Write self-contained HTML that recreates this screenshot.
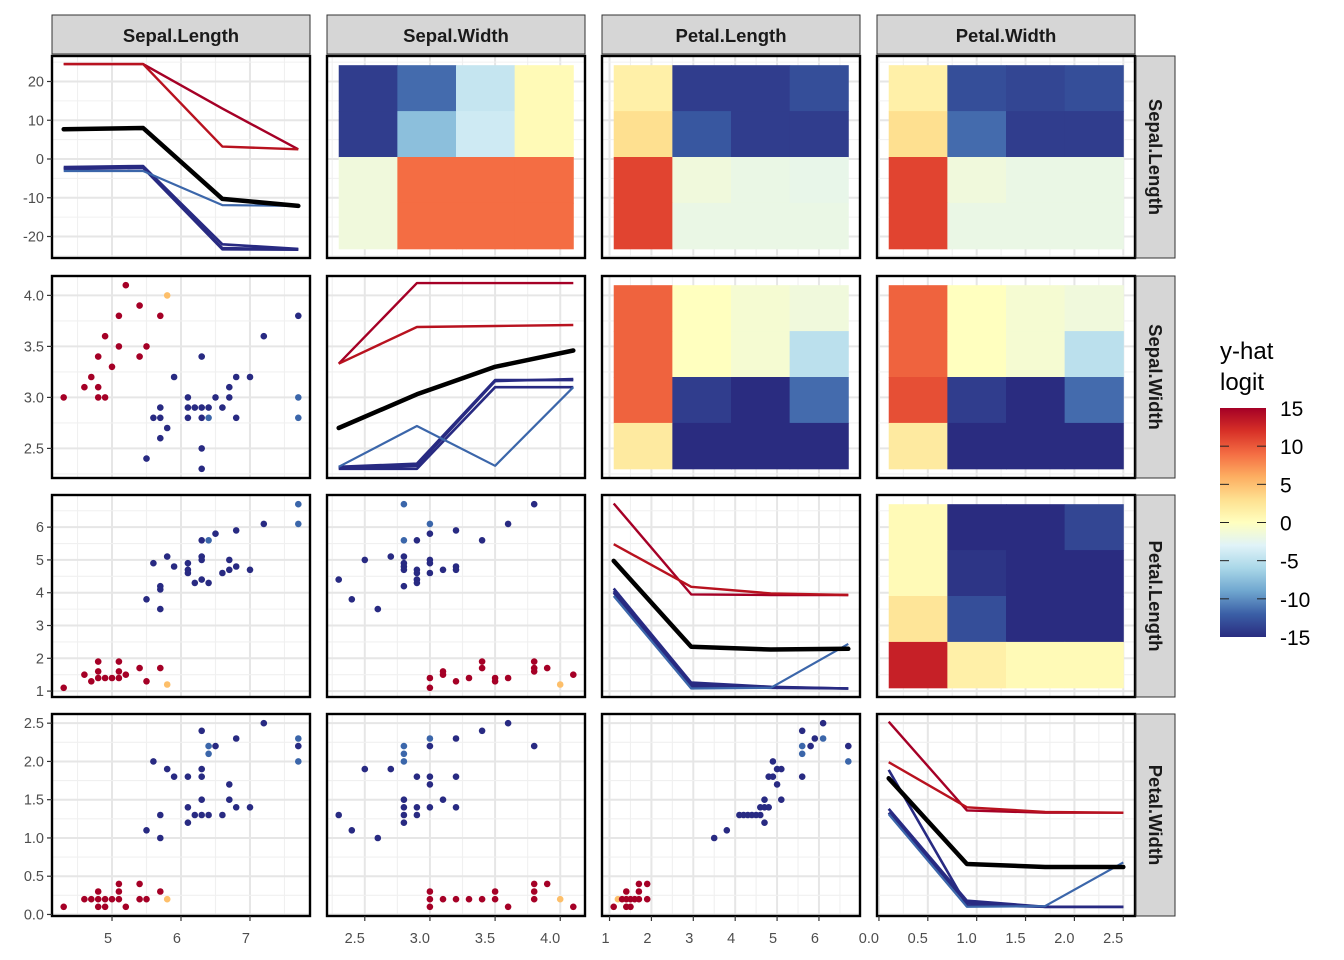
<!DOCTYPE html>
<html><head><meta charset="utf-8"><style>
html,body{margin:0;padding:0;background:#fff;}
svg{display:block;font-family:"Liberation Sans",Arial,sans-serif;}
</style></head>
<body>
<svg id="chart" width="1344" height="960" viewBox="0 0 1344 960">
<defs>
<linearGradient id="lg" x1="0" y1="1" x2="0" y2="0">
<stop offset="0" stop-color="#2a2c80"/><stop offset="0.1" stop-color="#3b5fa6"/><stop offset="0.2" stop-color="#6fa6cf"/><stop offset="0.3" stop-color="#a9d7e8"/><stop offset="0.4" stop-color="#e0f3f8"/><stop offset="0.5" stop-color="#ffffbf"/><stop offset="0.6" stop-color="#fee090"/><stop offset="0.7" stop-color="#fdae61"/><stop offset="0.8" stop-color="#f46d43"/><stop offset="0.9" stop-color="#d73027"/><stop offset="1" stop-color="#a50026"/>
</linearGradient>
</defs>
<g id="grids"></g>
<g id="marks"></g>
<g id="frames"></g>
<g id="axes"></g>
<g id="legend">
<text x="1220" y="359" font-size="24" fill="#000">y-hat</text>
<text x="1220" y="390" font-size="24" fill="#000">logit</text>
<rect x="1220" y="408" width="46" height="229" fill="url(#lg)"/>
</g>
</svg>
<script>
// ---- data ----
const features = ["Sepal.Length","Sepal.Width","Petal.Length","Petal.Width"];
const featMin = [4.3, 2.3, 1.1, 0.1];
const featMax = [7.7, 4.1, 6.7, 2.5];
const colTicks = [[5,6,7],[2.5,3.0,3.5,4.0],[1,2,3,4,5,6],[0.0,0.5,1.0,1.5,2.0,2.5]];
const colTickLabels = [["5","6","7"],["2.5","3.0","3.5","4.0"],["1","2","3","4","5","6"],["0.0","0.5","1.0","1.5","2.0","2.5"]];
const rowTicks = [[-20,-10,0,10,20],[2.5,3.0,3.5,4.0],[1,2,3,4,5,6],[0.0,0.5,1.0,1.5,2.0,2.5]];
const rowTickLabels = [["-20","-10","0","10","20"],["2.5","3.0","3.5","4.0"],["1","2","3","4","5","6"],["0.0","0.5","1.0","1.5","2.0","2.5"]];
const legendTicks = [15,10,5,0,-5,-10,-15];

// diagonal ICE lines (row 0 in logit units; others in row-feature units)
const diagX = [[4.3,5.45,6.6,7.7],[2.3,2.9,3.5,4.1],[1.1,2.95,4.85,6.7],[0.1,0.9,1.7,2.5]];
const diagNavy = [
 [[-2.1,-1.8,-22,-23.2],[-2.4,-2.1,-23,-23.3],[-2.6,-2.3,-23.3,-23.4]],
 [[2.32,2.35,3.17,3.17],[2.31,2.33,3.16,3.18],[2.30,2.30,3.10,3.10]],
 [[4.13,1.26,1.13,1.08],[4.05,1.20,1.12,1.08],[4.0,1.15,1.10,1.08]],
 [[1.38,0.18,0.10,0.10],[1.89,0.12,0.10,0.10],[1.33,0.15,0.10,0.10]]];
const diagMid = [[-3.1,-3.1,-11.9,-12.1],[2.32,2.72,2.33,3.10],[3.90,1.08,1.10,2.44],[1.31,0.10,0.11,0.68]];
const diagRed = [
 [[24.5,24.5,13,2.5],[24.5,24.5,3.2,2.5]],
 [[3.33,4.12,4.12,4.12],[3.33,3.69,3.70,3.71]],
 [[6.72,3.95,3.93,3.93],[5.48,4.18,3.98,3.93]],
 [[2.52,1.36,1.33,1.33],[1.99,1.40,1.34,1.33]]];
const diagBlack = [[7.7,8.0,-10.3,-12.1],[2.70,3.03,3.30,3.46],[4.97,2.35,2.27,2.29],[1.78,0.66,0.62,0.62]];

// heatmaps (upper triangle), rows top->bottom, cols left->right, logit values
const heat01 = [[-14,-11.5,-4.5,0.5],[-14,-7.5,-4,0.5],[-1.5,9,9,9],[-1.5,9,9,9]];
const heat02 = [[1.5,-14,-14,-13],[3,-12.5,-14,-14],[11,-1.5,-2,-2.2],[11,-2,-2,-2]];
const heat03 = [[1.5,-13,-13.5,-13],[3,-11.5,-14,-14],[11,-1.5,-2,-2],[11,-2,-2,-2]];
const heat12 = [[9.5,0,-1,-1.5],[9.5,0,-1,-5],[9.5,-14,-15,-11.5],[2,-15,-15,-15]];
const heat13 = [[9.5,0,-1,-1.5],[9.5,0,-1,-5],[10.5,-14,-15,-11.5],[2,-15,-15,-15]];
const heat23 = [[0.5,-15,-15,-13.5],[0.5,-14.5,-15,-15.5],[2.5,-13,-15,-15],[13,1.5,0.5,0.5]];

// scatter (lower triangle): [x, y, class] class 0=red 1=orange 2=midblue 3=navy
const sc10 = [[4.3,3.0,0],[4.6,3.1,0],[4.7,3.2,0],[4.8,3.1,0],[4.8,3.0,0],[4.8,3.4,0],[4.9,3.0,0],[4.9,3.6,0],[5.0,3.3,0],[5.1,3.5,0],[5.1,3.8,0],[5.2,4.1,0],[5.4,3.9,0],[5.4,3.4,0],[5.5,3.5,0],[5.7,3.8,0],[5.8,4.0,1],
 [5.5,2.4,3],[5.6,2.8,3],[5.7,2.9,3],[5.7,2.8,3],[5.7,2.6,3],[5.8,2.7,3],[5.9,3.2,3],[6.1,3.0,3],[6.1,2.9,3],[6.1,2.8,3],[6.2,2.9,3],[6.3,2.9,3],[6.3,2.8,3],[6.3,3.4,3],[6.3,2.5,3],[6.3,2.3,3],[6.4,2.9,3],[6.4,2.8,2],[6.5,3.0,3],[6.6,2.9,3],[6.7,3.0,3],[6.7,3.1,3],[6.8,3.2,3],[6.8,2.8,3],[7.0,3.2,3],[7.2,3.6,3],[7.7,3.8,3],[7.7,3.0,2],[7.7,2.8,2]];
const sc20 = [[4.3,1.1,0],[4.6,1.5,0],[4.7,1.3,0],[4.8,1.9,0],[4.8,1.6,0],[4.8,1.4,0],[4.9,1.4,0],[5.0,1.4,0],[5.1,1.9,0],[5.1,1.6,0],[5.1,1.4,0],[5.2,1.5,0],[5.4,1.7,0],[5.5,1.3,0],[5.7,1.7,0],[5.8,1.2,1],
 [5.5,3.8,3],[5.6,4.9,3],[5.7,4.2,3],[5.7,4.1,3],[5.7,3.5,3],[5.8,5.1,3],[5.9,4.8,3],[6.1,4.9,3],[6.1,4.7,3],[6.1,4.6,3],[6.2,4.3,3],[6.3,5.6,3],[6.3,5.1,3],[6.3,5.0,3],[6.3,4.4,3],[6.4,5.6,2],[6.4,4.3,3],[6.5,5.8,3],[6.6,4.6,3],[6.7,5.0,3],[6.7,4.7,3],[6.8,5.9,3],[6.8,4.8,3],[7.0,4.7,3],[7.2,6.1,3],[7.7,6.7,2],[7.7,6.1,2]];
const sc30 = [[4.3,0.1,0],[4.6,0.2,0],[4.7,0.2,0],[4.8,0.3,0],[4.8,0.2,0],[4.8,0.1,0],[4.9,0.2,0],[4.9,0.1,0],[5.0,0.2,0],[5.1,0.4,0],[5.1,0.3,0],[5.1,0.2,0],[5.2,0.1,0],[5.4,0.4,0],[5.4,0.2,0],[5.5,0.2,0],[5.7,0.3,0],[5.8,0.2,1],
 [5.5,1.1,3],[5.6,2.0,3],[5.7,1.3,3],[5.7,1.0,3],[5.8,1.9,3],[5.9,1.8,3],[6.1,1.8,3],[6.1,1.4,3],[6.1,1.2,3],[6.2,1.3,3],[6.3,2.4,3],[6.3,1.9,3],[6.3,1.8,3],[6.3,1.5,3],[6.3,1.3,3],[6.4,2.2,2],[6.4,2.1,2],[6.4,1.3,3],[6.5,2.2,3],[6.6,1.3,3],[6.7,1.7,3],[6.7,1.5,3],[6.8,2.3,3],[6.8,1.4,3],[7.0,1.4,3],[7.2,2.5,3],[7.7,2.3,2],[7.7,2.2,3],[7.7,2.0,2]];
const sc21 = [[3.0,1.4,0],[3.0,1.1,0],[3.1,1.6,0],[3.1,1.5,0],[3.2,1.3,0],[3.3,1.4,0],[3.4,1.9,0],[3.4,1.7,0],[3.5,1.4,0],[3.5,1.3,0],[3.6,1.4,0],[3.8,1.9,0],[3.8,1.7,0],[3.8,1.6,0],[3.9,1.7,0],[4.1,1.5,0],[4.0,1.2,1],
 [2.8,6.7,2],[3.8,6.7,3],[3.0,6.1,2],[3.6,6.1,3],[3.2,5.9,3],[3.0,5.8,3],[2.8,5.6,2],[2.9,5.6,3],[3.4,5.6,3],[2.5,5.0,3],[2.7,5.1,3],[2.8,5.1,3],[2.8,4.9,3],[2.8,4.8,3],[2.8,4.7,3],[2.9,4.7,3],[2.9,4.6,3],[3.0,5.0,3],[3.0,4.9,3],[3.0,4.6,3],[3.1,4.7,3],[3.2,4.8,3],[3.2,4.7,3],[2.9,4.4,3],[2.9,4.3,3],[2.8,4.2,3],[2.3,4.4,3],[2.4,3.8,3],[2.6,3.5,3]];
const sc31 = [[3.0,0.3,0],[3.0,0.2,0],[3.0,0.1,0],[3.1,0.2,0],[3.2,0.2,0],[3.3,0.2,0],[3.4,0.2,0],[3.5,0.3,0],[3.5,0.2,0],[3.6,0.1,0],[3.8,0.4,0],[3.8,0.3,0],[3.8,0.2,0],[3.9,0.4,0],[4.1,0.1,0],[4.0,0.2,1],
 [3.6,2.5,3],[3.4,2.4,3],[3.0,2.3,2],[3.2,2.3,3],[3.0,2.2,3],[3.8,2.2,3],[2.8,2.2,2],[2.8,2.1,2],[2.8,2.0,2],[2.5,1.9,3],[2.7,1.9,3],[2.9,1.8,3],[3.0,1.8,3],[3.2,1.8,3],[3.0,1.7,3],[2.8,1.5,3],[2.8,1.4,3],[2.9,1.4,3],[3.0,1.4,3],[3.1,1.5,3],[3.2,1.4,3],[2.8,1.3,3],[2.9,1.3,3],[2.8,1.2,3],[2.3,1.3,3],[2.4,1.1,3],[2.6,1.0,3]];
const sc32 = [[1.1,0.1,0],[1.2,0.2,1],[1.3,0.2,0],[1.4,0.2,0],[1.5,0.2,0],[1.6,0.2,0],[1.7,0.2,0],[1.4,0.3,0],[1.7,0.3,0],[1.7,0.4,0],[1.9,0.4,0],[1.9,0.2,0],[1.4,0.1,0],[1.5,0.1,0],
 [6.1,2.5,3],[5.6,2.4,3],[5.9,2.3,3],[6.1,2.3,2],[6.7,2.2,3],[6.7,2.0,2],[5.6,2.2,2],[5.6,2.1,2],[5.8,2.2,3],[5.6,1.8,3],[4.9,2.0,3],[4.8,1.8,3],[4.9,1.8,3],[5.0,1.9,3],[5.1,1.9,3],[5.0,1.7,3],[5.1,1.5,3],[4.7,1.5,3],[4.6,1.4,3],[4.7,1.4,3],[4.8,1.4,3],[4.1,1.3,3],[4.2,1.3,3],[4.3,1.3,3],[4.4,1.3,3],[4.5,1.3,3],[4.6,1.3,3],[4.7,1.2,3],[3.8,1.1,3],[3.5,1.0,3]];

// ---- layout / scales ----
const NS = "http://www.w3.org/2000/svg";
const colLeft = [52,327,602,877], rowTop = [56,276,495,714], PW = 258, PH = 202;
function lo(i){ return featMin[i]-0.05*(featMax[i]-featMin[i]); }
function hi(i){ return featMax[i]+0.05*(featMax[i]-featMin[i]); }
function xS(c,v){ return colLeft[c] + (v-lo(c))/(hi(c)-lo(c))*PW; }
function fY(r,v){ return rowTop[r]+PH - (v-lo(r))/(hi(r)-lo(r))*PH; }
function logitY(v){ return 159 - v*3.875; }
function axisY(r,v){ return r===0 ? logitY(v) : fY(r,v); }
const classColors = ["#a50026","#fdbf6a","#3b66aa","#282a82"];
const rdylbu = ["#2a2c80","#3b5fa6","#6fa6cf","#a9d7e8","#e0f3f8","#ffffbf","#fee090","#fdae61","#f46d43","#d73027","#a50026"];
function hx(s){ return [1,3,5].map(i=>parseInt(s.substr(i,2),16)); }
function colorFor(v){
  let t = (Math.max(-15,Math.min(15,v))+15)/30*10;
  let i = Math.min(9,Math.floor(t)), f = t-i;
  const a = hx(rdylbu[i]), b = hx(rdylbu[i+1]);
  return "rgb("+a.map((x,k)=>Math.round(x+(b[k]-x)*f)).join(",")+")";
}
function mk(tag, attrs, parent){
  const e = document.createElementNS(NS, tag);
  for (const k in attrs) e.setAttribute(k, attrs[k]);
  parent.appendChild(e);
  return e;
}
const gG = document.getElementById("grids"), gM = document.getElementById("marks"),
      gF = document.getElementById("frames"), gA = document.getElementById("axes"),
      gL = document.getElementById("legend");

// grids
for (let r=0;r<4;r++) for (let c=0;c<4;c++){
  const x0=colLeft[c], y0=rowTop[r];
  const bg = mk("rect",{x:x0,y:y0,width:PW,height:PH,fill:"#fff"},gG);
  
  
  const xt = colTicks[c], yt = rowTicks[r];
  const xs = [], ys = [];
  const dx = xt[1]-xt[0], dy = yt[1]-yt[0];
  for (let k=-2;k<xt.length+2;k++){ xs.push([xt[0]+k*dx,true]); xs.push([xt[0]+(k+0.5)*dx,false]); }
  for (let k=-2;k<yt.length+2;k++){ ys.push([yt[0]+k*dy,true]); ys.push([yt[0]+(k+0.5)*dy,false]); }
  xs.forEach(([v,maj])=>{ const px=xS(c,v); if(px>x0&&px<x0+PW){
    const l = mk("line",{x1:px,x2:px,y1:y0,y2:y0+PH,stroke:maj?"#e6e6e6":"#f0f0f0","stroke-width":maj?2:1.1},gG);
    
     }});
  ys.forEach(([v,maj])=>{ const py=axisY(r,v); if(py>y0&&py<y0+PH){
    const l = mk("line",{x1:x0,x2:x0+PW,y1:py,y2:py,stroke:maj?"#e6e6e6":"#f0f0f0","stroke-width":maj?2:1.1},gG);
    
     }});
}

// heatmaps
const heatList = [[0,1,heat01],[0,2,heat02],[0,3,heat03],[1,2,heat12],[1,3,heat13],[2,3,heat23]];
heatList.forEach(([r,c,m])=>{
  const xa = xS(c,featMin[c]), xb = xS(c,featMax[c]);
  const ya = fY(r,featMax[r]), yb = fY(r,featMin[r]);
  const w = (xb-xa)/4, h = (yb-ya)/4;
  m.forEach((row,i)=>row.forEach((v,j)=>{
    const cell = mk("rect",{x:xa+j*w,y:ya+i*h,width:w+0.5,height:h+0.5,fill:colorFor(v)},gM);
    
    
  }));
});

// diagonal lines
function linePath(d, vals){
  return vals.map((v,i)=>(i?"L":"M")+xS(d,diagX[d][i]).toFixed(1)+","+axisY(d,v).toFixed(1)).join(" ");
}
for (let d=0; d<4; d++){
  diagNavy[d].forEach(vals=>{
    const p = mk("path",{d:linePath(d,vals),fill:"none",stroke:"#282a82","stroke-width":2.6,"stroke-linejoin":"round"},gM);
    
    
  });
  const pm = mk("path",{d:linePath(d,diagMid[d]),fill:"none",stroke:"#3b66aa","stroke-width":2.2,"stroke-linejoin":"round"},gM);
  
  
  diagRed[d].forEach((vals,i)=>{
    const p = mk("path",{d:linePath(d,vals),fill:"none",stroke:i?"#b8121f":"#a50026","stroke-width":2.4,"stroke-linejoin":"round"},gM);
    
    
  });
  const pb = mk("path",{d:linePath(d,diagBlack[d]),fill:"none",stroke:"#000","stroke-width":4.5,"stroke-linejoin":"round","stroke-linecap":"round"},gM);
  
  
}

// scatter
const scList = [[1,0,sc10],[2,0,sc20],[3,0,sc30],[2,1,sc21],[3,1,sc31],[3,2,sc32]];
scList.forEach(([r,c,pts])=>{
  pts.forEach(p=>{
    const dot = mk("circle",{cx:xS(c,p[0]).toFixed(1),cy:fY(r,p[1]).toFixed(1),r:3.3,fill:classColors[p[2]]},gM);
    
    
  });
});

// frames & strips
for (let r=0;r<4;r++) for (let c=0;c<4;c++){
  const f = mk("rect",{x:colLeft[c],y:rowTop[r],width:PW,height:PH,fill:"none",stroke:"#000","stroke-width":2.4},gF);
  
  
}
for (let c=0;c<4;c++){
  const s = mk("rect",{x:colLeft[c],y:15,width:PW,height:39,fill:"#d6d6d6",stroke:"#333","stroke-width":1},gF);
  
  
  const t = mk("text",{x:colLeft[c]+PW/2,y:42,"text-anchor":"middle","font-size":18.5,"font-weight":"bold",fill:"#1a1a1a"},gF);
  t.textContent = features[c];
  
  
}
for (let r=0;r<4;r++){
  const s = mk("rect",{x:1136,y:rowTop[r],width:39,height:PH,fill:"#d6d6d6",stroke:"#333","stroke-width":1},gF);
  
  
  const cx = 1149, cy = rowTop[r]+PH/2;
  const t = mk("text",{x:cx,y:cy,"text-anchor":"middle","font-size":18.5,"font-weight":"bold",fill:"#1a1a1a",transform:"rotate(90 "+cx+" "+cy+")"},gF);
  t.textContent = features[r];
  
  
}

// axes
for (let r=0;r<4;r++){
  rowTicks[r].forEach((v,i)=>{
    const y = axisY(r,v);
    const tk = mk("line",{x1:47,x2:52,y1:y,y2:y,stroke:"#333","stroke-width":1.2},gA);
    
    
    const lb = mk("text",{x:44,y:y+5,"text-anchor":"end","font-size":14.5,fill:"#4d4d4d"},gA);
    lb.textContent = rowTickLabels[r][i];
    
    
  });
}
for (let c=0;c<4;c++){
  colTicks[c].forEach((v,i)=>{
    const x = xS(c,v);
    const tk = mk("line",{x1:x,x2:x,y1:916,y2:921,stroke:"#333","stroke-width":1.2},gA);
    
    
    const lb = mk("text",{x:x,y:943,"text-anchor":"end","font-size":14.5,fill:"#4d4d4d"},gA);
    lb.textContent = colTickLabels[c][i];
    
    
  });
}

// legend ticks
legendTicks.forEach(v=>{
  const y = 522.5 - v*(229/30);
  if (v!==15 && v!==-15){
    const a = mk("line",{x1:1220,x2:1229,y1:y,y2:y,stroke:"#222","stroke-width":1},gL);
    
    
    const b = mk("line",{x1:1257,x2:1266,y1:y,y2:y,stroke:"#222","stroke-width":1},gL);
    
    
  }
  const t = mk("text",{x:1280,y:y+8,"font-size":21,fill:"#000"},gL);
  t.textContent = String(v);
  
  
});
</script>
</body></html>
